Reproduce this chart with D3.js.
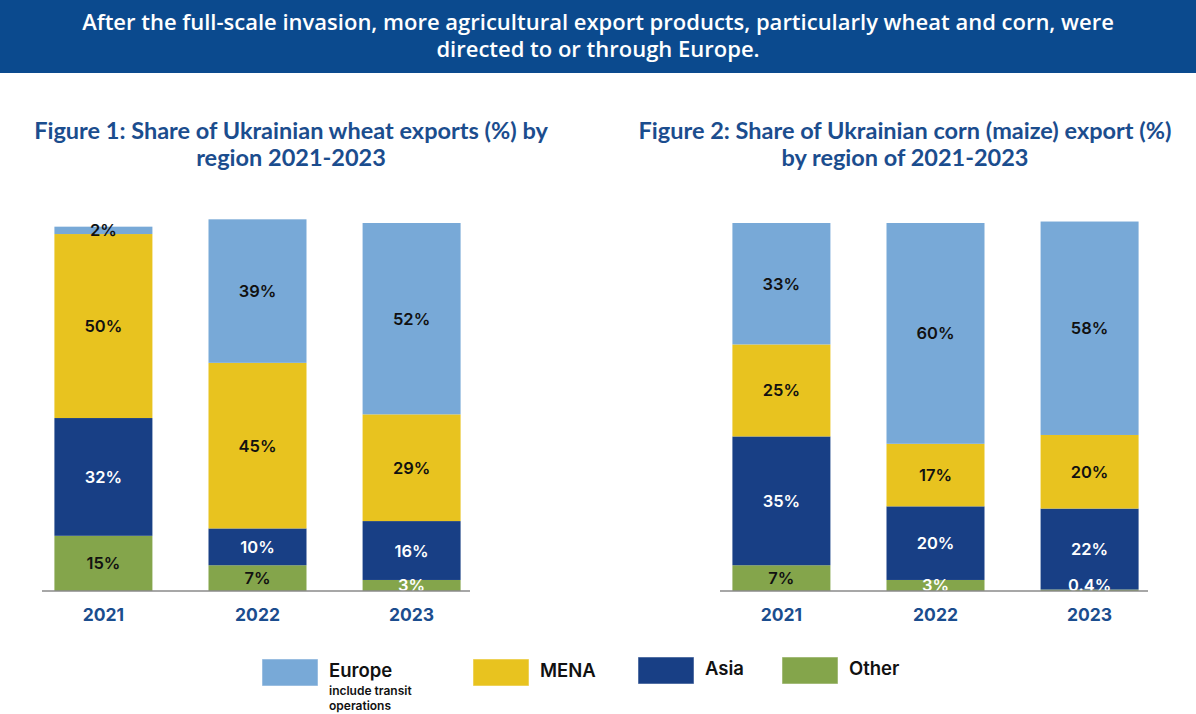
<!DOCTYPE html>
<html>
<head>
<meta charset="utf-8">
<script src="https://cdn.jsdelivr.net/npm/d3@7"></script>
<style>
  body { margin: 0; background: #fff; }
  svg { display: block; }
</style>
</head>
<body>
<div id="chart"></div>
<script>
//categories and series
const years = ["2021", "2022", "2023"];
const regions = ["Other", "Asia", "MENA", "Europe"]; //bottom to top

const wheatEurope = [2, 39, 52];
const wheatMena = [50, 45, 29];
const wheatAsia = [32, 10, 16];
const wheatOther = [15, 7, 3];

const cornEurope = [33, 60, 58];
const cornMena = [25, 17, 20];
const cornAsia = [35, 20, 22];
const cornOther = [7, 3, 0.4];

const headline = [
  "After the full-scale invasion, more agricultural export products, particularly wheat and corn, were",
  "directed to or through Europe.",
];
const wheatTitle = ["Figure 1: Share of Ukrainian wheat exports (%) by", "region 2021-2023"];
const cornTitle = ["Figure 2: Share of Ukrainian corn (maize) export (%)", "by region of 2021-2023"];

const legendLabels = ["Europe", "MENA", "Asia", "Other"];
const legendNote = ["include transit", "operations"];

const colors = {
  Europe: "#78a9d7",
  MENA: "#e8c31f",
  Asia: "#183f85",
  Other: "#84a54b",
};

const width = 1196;
const height = 714;
const titleBlue = "#1b4d8e";

const svg = d3
  .select("#chart")
  .append("svg")
  .attr("width", width)
  .attr("height", height);

//header band
svg.append("rect")
  .attr("x", 0)
  .attr("y", 0)
  .attr("width", width)
  .attr("height", 73)
  .attr("fill", "#0b4a8e");

svg.append("g")
  .selectAll("text")
  .data(headline)
  .join("text")
  .attr("x", width / 2)
  .attr("y", (d, i) => 30 + i * 27)
  .attr("text-anchor", "middle")
  .attr("fill", "#fff")
  .attr("font-family", "'Open Sans', sans-serif")
  .attr("font-weight", 600)
  .attr("font-size", 22)
  .text((d) => d);

//one stacked chart
function drawChart(opts) {
  const rows = years.map((year, i) => ({
    year,
    Europe: opts.europe[i],
    MENA: opts.mena[i],
    Asia: opts.asia[i],
    Other: opts.other[i],
  }));

  const stacked = d3.stack().keys(regions)(rows);

  const x = d3
    .scaleBand()
    .domain(years)
    .range([opts.left, opts.left + 437])
    .paddingInner(0.364)
    .paddingOuter(0.1);

  const y = d3.scaleLinear().domain([0, 100]).range([591, 223]);

  const g = svg.append("g");

  //figure title
  g.append("g")
    .selectAll("text")
    .data(opts.title)
    .join("text")
    .attr("x", opts.titleX)
    .attr("y", (d, i) => 139 + i * 27)
    .attr("text-anchor", "middle")
    .attr("fill", titleBlue)
    .attr("font-family", "Lato, sans-serif")
    .attr("font-weight", 700)
    .attr("font-size", 23.5)
    .text((d) => d);

  //bars
  g.append("g")
    .selectAll("g")
    .data(stacked)
    .join("g")
    .attr("fill", (d) => colors[d.key])
    .selectAll("rect")
    .data((d) => d)
    .join("rect")
    .attr("x", (d) => x(d.data.year))
    .attr("y", (d) => y(d[1]))
    .attr("width", x.bandwidth())
    .attr("height", (d) => y(d[0]) - y(d[1]));

  //value labels, drawn after all bars so none get covered
  const base = y(0);
  const labels = stacked.flatMap((layer) =>
    layer.map((p) => ({ p, key: layer.key, v: p.data[layer.key] }))
  );

  g.append("g")
    .selectAll("text")
    .data(labels)
    .join("text")
    .attr("x", (d) => x(d.p.data.year) + x.bandwidth() / 2)
    .attr("y", (d) => Math.min((y(d.p[0]) + y(d.p[1])) / 2, base - 6))
    .attr("text-anchor", "middle")
    .attr("dominant-baseline", "central")
    .attr("font-family", "Inter, sans-serif")
    .attr("font-weight", 600)
    .attr("font-size", 16.5)
    .attr("fill", (d) => {
      if (d.key === "Asia") return "#fff";
      if (d.key === "Other" && d.v < 5) return "#fff";
      return "#111";
    })
    .text((d) => d.v + "%");

  //x axis
  const axis = g
    .append("g")
    .attr("transform", `translate(0, ${base})`)
    .call(d3.axisBottom(x).tickSize(0).tickPadding(18));

  axis.select(".domain")
    .attr("d", `M${opts.left + 3},0H${opts.left + 431}`)
    .attr("stroke", "#8a8a8a")
    .attr("stroke-width", 1.5);

  axis.selectAll("text")
    .attr("fill", titleBlue)
    .attr("font-family", "Inter, sans-serif")
    .attr("font-weight", 700)
    .attr("font-size", 17.5);
}

drawChart({
  left: 39,
  titleX: 291,
  title: wheatTitle,
  europe: wheatEurope,
  mena: wheatMena,
  asia: wheatAsia,
  other: wheatOther,
});

drawChart({
  left: 717,
  titleX: 905,
  title: cornTitle,
  europe: cornEurope,
  mena: cornMena,
  asia: cornAsia,
  other: cornOther,
});

//legend
const legendPos = [
  { x: 262, y: 659 },
  { x: 473, y: 659 },
  { x: 638, y: 657 },
  { x: 782, y: 657 },
];

const legend = svg
  .append("g")
  .selectAll("g")
  .data(legendLabels)
  .join("g")
  .attr("transform", (d, i) => `translate(${legendPos[i].x}, ${legendPos[i].y})`);

legend.append("rect")
  .attr("width", 56)
  .attr("height", 27)
  .attr("fill", (d) => colors[d])
  .attr("stroke", "#fff")
  .attr("stroke-opacity", 0.5);

legend.append("text")
  .attr("x", 67)
  .attr("y", 18)
  .attr("fill", "#111")
  .attr("font-family", "Inter, sans-serif")
  .attr("font-weight", 600)
  .attr("font-size", 18.5)
  .text((d) => d);

svg.append("g")
  .selectAll("text")
  .data(legendNote)
  .join("text")
  .attr("x", 329)
  .attr("y", (d, i) => 695 + i * 15)
  .attr("fill", "#111")
  .attr("font-family", "Inter, sans-serif")
  .attr("font-weight", 600)
  .attr("font-size", 12)
  .text((d) => d);
</script>
</body>
</html>
